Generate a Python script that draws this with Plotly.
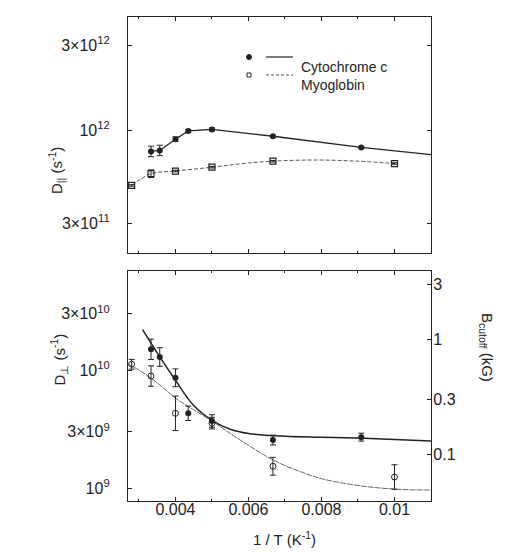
import plotly.graph_objects as go

# ---------------- data ----------------
# Top panel: D_parallel (s^-1)
cyt_top_x = [0.00333, 0.00357, 0.0040, 0.00435, 0.0050, 0.00667, 0.00909]
cyt_top_y = [7.6e11, 7.7e11, 8.9e11, 9.9e11, 1.01e12, 9.25e11, 8.0e11]
cyt_top_err = [1.07, 1.07, 1.03, 1.02, 1.02, 1.01, 1.01]
cyt_top_line_x = [0.00333, 0.00357, 0.0040, 0.00435, 0.0050, 0.00667, 0.00909, 0.0110]
cyt_top_line_y = [7.6e11, 7.7e11, 8.9e11, 9.9e11, 1.01e12, 9.25e11, 8.0e11, 7.3e11]

myo_top_x = [0.0028, 0.00333, 0.0040, 0.0050, 0.00667, 0.0100]
myo_top_y = [4.9e11, 5.7e11, 5.9e11, 6.2e11, 6.7e11, 6.5e11]
myo_top_err = [1.01, 1.05, 1.01, 1.01, 1.01, 1.01]
myo_top_line_x = [0.0028, 0.00333, 0.0040, 0.0050, 0.0060, 0.0070, 0.0080, 0.0090, 0.0100]
myo_top_line_y = [4.9e11, 5.7e11, 5.9e11, 6.2e11, 6.55e11, 6.75e11, 6.8e11, 6.7e11, 6.5e11]

# Bottom panel: D_perp (s^-1)
cyt_bot_x = [0.00333, 0.00357, 0.0040, 0.00435, 0.0050, 0.00667, 0.00909]
cyt_bot_y = [1.5e10, 1.29e10, 8.6e9, 4.3e9, 3.7e9, 2.55e9, 2.7e9]
cyt_bot_err = [1.22, 1.20, 1.19, 1.15, 1.13, 1.10, 1.08]
cyt_fit_x = [0.0031, 0.0035, 0.0040, 0.0045, 0.0050, 0.0055, 0.0060, 0.0070, 0.0080, 0.0090, 0.0110]
cyt_fit_y = [2.2e10, 1.4e10, 8.2e9, 5.0e9, 3.75e9, 3.15e9, 2.9e9, 2.75e9, 2.7e9, 2.65e9, 2.5e9]

myo_bot_x = [0.0028, 0.00333, 0.0040, 0.0050, 0.00667, 0.0100]
myo_bot_y = [1.12e10, 8.9e9, 4.3e9, 3.55e9, 1.53e9, 1.24e9]
myo_bot_err = [1.10, 1.22, 1.40, 1.12, 1.19, 1.27]
myo_fit_x = [0.0027, 0.0030, 0.0035, 0.0040, 0.0045, 0.0050, 0.0055, 0.0060, 0.0065,
             0.0070, 0.0075, 0.0080, 0.0090, 0.0100, 0.0110]
myo_fit_y = [1.12e10, 1.0e10, 7.8e9, 5.8e9, 4.6e9, 3.7e9, 2.9e9, 2.3e9, 1.85e9,
             1.55e9, 1.35e9, 1.2e9, 1.05e9, 0.98e9, 0.96e9]

x_ticks = [0.004, 0.006, 0.008, 0.01]
x_ticktext = ["0.004", "0.006", "0.008", "0.01"]
top_yticks = [3e11, 1e12, 3e12]
top_yticktext = ["3×10<sup>11</sup>", "10<sup>12</sup>", "3×10<sup>12</sup>"]
bot_yticks = [1e9, 3e9, 1e10, 3e10]
bot_yticktext = ["10<sup>9</sup>", "3×10<sup>9</sup>", "10<sup>10</sup>", "3×10<sup>10</sup>"]
b_ticks = [0.1, 0.3, 1, 3]
b_ticktext = ["0.1", "0.3", "1", "3"]

# ---------------- style ----------------
INK = "#222222"
FONT = "Liberation Sans, Arial, Helvetica, sans-serif"
TICKSIZE = 16
TITLESIZE = 15


def errs(vals, fac):
    up = [v * (f - 1) for v, f in zip(vals, fac)]
    dn = [v * (1 - 1 / f) for v, f in zip(vals, fac)]
    return dict(type="data", array=up, arrayminus=dn, visible=True,
                color=INK, thickness=1, width=3)


fig = go.Figure()

# top panel
fig.add_trace(go.Scatter(x=cyt_top_line_x, y=cyt_top_line_y, mode="lines",
                         line=dict(color=INK, width=1.3), xaxis="x", yaxis="y",
                         showlegend=False, hoverinfo="skip"))
fig.add_trace(go.Scatter(x=myo_top_line_x, y=myo_top_line_y, mode="lines",
                         line=dict(color="#555555", width=1, dash="4px,2px", shape="spline"),
                         xaxis="x", yaxis="y", showlegend=False, hoverinfo="skip"))
fig.add_trace(go.Scatter(x=cyt_top_x, y=cyt_top_y, mode="markers",
                         marker=dict(symbol="circle", size=6, color=INK),
                         error_y=errs(cyt_top_y, cyt_top_err),
                         xaxis="x", yaxis="y", showlegend=False))
fig.add_trace(go.Scatter(x=myo_top_x, y=myo_top_y, mode="markers",
                         marker=dict(symbol="square-open", size=6, color=INK,
                                     line=dict(width=1.2, color=INK)),
                         error_y=errs(myo_top_y, myo_top_err),
                         xaxis="x", yaxis="y", showlegend=False))

# bottom panel
fig.add_trace(go.Scatter(x=cyt_fit_x, y=cyt_fit_y, mode="lines",
                         line=dict(color=INK, width=1.5, shape="spline"),
                         xaxis="x2", yaxis="y2", showlegend=False, hoverinfo="skip"))
fig.add_trace(go.Scatter(x=myo_fit_x, y=myo_fit_y, mode="lines",
                         line=dict(color="#666666", width=1, shape="spline", dash="6px,1px"),
                         xaxis="x2", yaxis="y2", showlegend=False, hoverinfo="skip"))
fig.add_trace(go.Scatter(x=cyt_bot_x, y=cyt_bot_y, mode="markers",
                         marker=dict(symbol="circle", size=6, color=INK),
                         error_y=errs(cyt_bot_y, cyt_bot_err),
                         xaxis="x2", yaxis="y2", showlegend=False))
fig.add_trace(go.Scatter(x=myo_bot_x, y=myo_bot_y, mode="markers",
                         marker=dict(symbol="circle-open", size=6, color=INK,
                                     line=dict(width=1, color=INK)),
                         error_y=errs(myo_bot_y, myo_bot_err),
                         xaxis="x2", yaxis="y2", showlegend=False))
# invisible trace to activate right axis
fig.add_trace(go.Scatter(x=[0.006], y=[0.5], mode="markers", marker=dict(opacity=0),
                         xaxis="x2", yaxis="y3", showlegend=False, hoverinfo="skip"))

axis_common = dict(showline=True, linecolor=INK, linewidth=1.3, ticks="inside",
                   tickcolor=INK, ticklen=4, tickwidth=1, showgrid=False, zeroline=False,
                   tickfont=dict(family=FONT, size=TICKSIZE, color=INK))

xrange = [0.0027, 0.011]
fig.update_layout(
    width=506, height=553,
    margin=dict(l=120, r=83, t=9, b=60),
    paper_bgcolor="white", plot_bgcolor="white",
    font=dict(family=FONT, size=13, color=INK),
    xaxis=dict(domain=[0, 1], range=xrange, anchor="y", tickvals=x_ticks,
               showticklabels=False, mirror="ticks",
               minor=dict(dtick=0.001, ticks="inside", ticklen=2, tickcolor=INK),
               **axis_common),
    yaxis=dict(domain=[0.512, 1.0], type="log", range=[11.31, 12.635], anchor="x",
               tickvals=top_yticks, ticktext=top_yticktext, mirror="ticks",
               ticklabelstandoff=14, **axis_common),
    xaxis2=dict(domain=[0, 1], range=xrange, anchor="y2", tickvals=x_ticks,
                ticktext=x_ticktext, mirror="ticks", ticklabelstandoff=-6,
                minor=dict(dtick=0.001, ticks="inside", ticklen=2, tickcolor=INK),
                **axis_common),
    yaxis2=dict(domain=[0, 0.475], type="log", range=[8.89, 10.839], anchor="x2",
                tickvals=bot_yticks, ticktext=bot_yticktext, mirror=True,
                ticklabelstandoff=14, **axis_common),
    yaxis3=dict(type="log", range=[-1.405, 0.595], overlaying="y2", side="right",
                anchor="x2", tickvals=b_ticks, ticktext=b_ticktext,
                ticklabelstandoff=-2, **axis_common),
)

# axis titles
fig.add_annotation(text="D<sub>||</sub> (s<sup>-1</sup>)", xref="paper", yref="paper",
                   x=(36 - 120) / 303, y=(493 - 137) / 484, textangle=-90,
                   showarrow=False, font=dict(family=FONT, size=TITLESIZE, color=INK))
fig.add_annotation(text="D<sub>⊥</sub> (s<sup>-1</sup>)", xref="paper", yref="paper",
                   x=(38 - 120) / 303, y=(493 - 380) / 484, textangle=-90,
                   showarrow=False, font=dict(family=FONT, size=TITLESIZE, color=INK))
fig.add_annotation(text="B<sub>cutoff</sub> (kG)", xref="paper", yref="paper",
                   x=(490 - 120) / 303, y=(493 - 376) / 484, textangle=90,
                   showarrow=False, font=dict(family=FONT, size=TITLESIZE, color=INK))
fig.add_annotation(text="1 / T (K<sup>-1</sup>)", xref="paper", yref="paper",
                   x=(276 - 120) / 303, y=(493 - 542) / 484,
                   showarrow=False, font=dict(family=FONT, size=TITLESIZE, color=INK))


# legend (drawn manually)
def px(x):
    return (x - 120) / 303


def py(y):
    return (493 - y) / 484


fig.add_shape(type="circle", xref="paper", yref="paper", xsizemode="pixel",
              ysizemode="pixel", xanchor=px(241), yanchor=py(49),
              x0=-2.5, x1=2.5, y0=-2.5, y1=2.5, fillcolor=INK, line=dict(color=INK, width=1))
fig.add_shape(type="rect", xref="paper", yref="paper", xsizemode="pixel",
              ysizemode="pixel", xanchor=px(241), yanchor=py(67),
              x0=-2, x1=2, y0=-2, y1=2, fillcolor="white", line=dict(color=INK, width=1))
fig.add_shape(type="line", xref="paper", yref="paper", x0=px(258), x1=px(285),
              y0=py(49), y1=py(49), line=dict(color=INK, width=1.2))
fig.add_shape(type="line", xref="paper", yref="paper", x0=px(258), x1=px(285),
              y0=py(67), y1=py(67), line=dict(color="#555555", width=1, dash="3px,2px"))
fig.add_annotation(text="Cytochrome c", xref="paper", yref="paper", x=px(291), y=py(49),
                   xanchor="left", showarrow=False, font=dict(family=FONT, size=14, color=INK))
fig.add_annotation(text="Myoglobin", xref="paper", yref="paper", x=px(291), y=py(67),
                   xanchor="left", showarrow=False, font=dict(family=FONT, size=14, color=INK))

fig.write_html("out.html")
